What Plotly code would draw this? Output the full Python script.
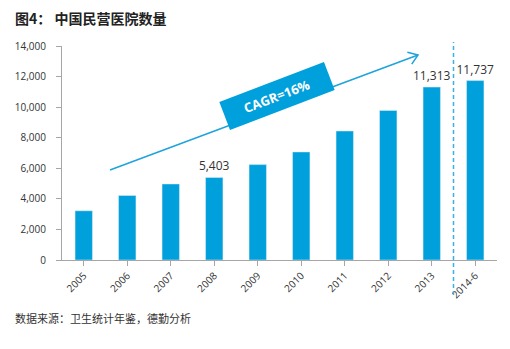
import math
import plotly.graph_objects as go

categories = ["2005", "2006", "2007", "2008", "2009", "2010", "2011", "2012", "2013", "2014-6"]
hospitals = [3220, 4222, 4974, 5403, 6240, 7068, 8440, 9786, 11313, 11737]
labeled = ["2008", "2013", "2014-6"]
bar_text = [f"{v:,}" if c in labeled else "" for c, v in zip(categories, hospitals)]
y_ticks = [0, 2000, 4000, 6000, 8000, 10000, 12000, 14000]
cagr_text = "CAGR=16%"

W, H = 510, 349
L, R, T, B = 62, 13, 46, 89
YMAX = 14000
PW, PH = W - L - R, H - T - B
n = len(categories)

BLUE = "#00a0dc"
TXT = "#333333"
AX = "#a6a6a6"

def px2x(px):
    return (px - L) / PW * n - 0.5

def py2y(py):
    return (T + PH - py) / PH * YMAX

fig = go.Figure()
fig.add_trace(go.Bar(
    x=list(range(n)), y=hospitals, width=0.4, marker_color=BLUE,
    text=bar_text, textposition="outside", cliponaxis=False, constraintext="none",
    textfont=dict(family="Open Sans", size=12, color=TXT),
    hoverinfo="skip",
))

shapes = []
# arrow line (pixel geometry)
sx, sy, ex, ey = 110, 170, 418, 55
shapes.append(dict(type="line", xref="x", yref="y",
                   x0=px2x(sx), y0=py2y(sy), x1=px2x(ex), y1=py2y(ey),
                   line=dict(color="#1fa3dc", width=1.5)))
dx, dy = sx - ex, sy - ey
d = math.hypot(dx, dy)
ux, uy = dx / d, dy / d
pts = []
for a in (math.radians(35), math.radians(-35)):
    rx = ux * math.cos(a) - uy * math.sin(a)
    ry = ux * math.sin(a) + uy * math.cos(a)
    pts.append((ex + 11 * rx, ey + 11 * ry))
path = (f"M {px2x(pts[0][0])},{py2y(pts[0][1])} L {px2x(ex)},{py2y(ey)} "
        f"L {px2x(pts[1][0])},{py2y(pts[1][1])}")
shapes.append(dict(type="path", xref="x", yref="y", path=path,
                   line=dict(color="#1fa3dc", width=1.5)))

# rotated box
cx, cy, bl, bh, ang = 277, 96, 112, 30, math.radians(20.9)
ax_, ay_ = math.cos(ang), -math.sin(ang)
nx_, ny_ = math.sin(ang), math.cos(ang)
corners = []
for s1, s2 in ((-1, -1), (1, -1), (1, 1), (-1, 1)):
    corners.append((cx + s1 * bl / 2 * ax_ + s2 * bh / 2 * nx_,
                    cy + s1 * bl / 2 * ay_ + s2 * bh / 2 * ny_))
bpath = "M " + " L ".join(f"{px2x(p[0])},{py2y(p[1])}" for p in corners) + " Z"
shapes.append(dict(type="path", xref="x", yref="y", path=bpath,
                   fillcolor=BLUE, line=dict(width=0)))

# dashed divider
shapes.append(dict(type="line", xref="x", yref="paper", x0=n - 1.5, x1=n - 1.5,
                   y0=(T + PH - 295) / PH, y1=(T + PH - 42) / PH,
                   line=dict(color="#3db0e3", width=1.5, dash="4px,3px")))

annotations = [
    dict(x=px2x(cx), y=py2y(cy), xref="x", yref="y", text=cagr_text, showarrow=False,
         textangle=-20.9, font=dict(family="Open Sans", size=13, color="white", weight="bold")),
    dict(x=13, y=H - 18, xref="paper", yref="paper", text="图4： 中国民营医院数量", showarrow=False,
         xanchor="left", yanchor="middle",
         font=dict(family="Noto Sans CJK SC", size=14, color="#222222", weight="bold")),
    dict(x=13, y=H - 318, xref="paper", yref="paper", text="数据来源：卫生统计年鉴，德勤分析", showarrow=False,
         xanchor="left", yanchor="middle",
         font=dict(family="Noto Sans CJK SC", size=11, color="#333333")),
]
for a in annotations[1:]:
    a["x"] = (a["x"] - L) / PW
    a["y"] = (a["y"] - B) / PH

fig.update_layout(
    width=W, height=H, margin=dict(l=L, r=R, t=T, b=B),
    paper_bgcolor="white", plot_bgcolor="white", showlegend=False,
    shapes=shapes, annotations=annotations,
    xaxis=dict(range=[-0.5, n - 0.5], tickmode="array", tickvals=list(range(n)),
               ticktext=categories, tickangle=-45, showgrid=False, zeroline=False,
               showline=True, linecolor=AX, linewidth=1, ticks="outside", tickson="boundaries",
               ticklen=5, tickcolor=AX, fixedrange=True,
               tickfont=dict(family="Open Sans", size=10, color=TXT)),
    yaxis=dict(range=[0, YMAX], tickmode="array", tickvals=y_ticks,
               ticktext=[f"{v:,}" for v in y_ticks], showgrid=False, zeroline=False,
               showline=True, linecolor=AX, linewidth=1, ticks="outside", ticklen=5,
               tickcolor=AX, ticklabelstandoff=8, fixedrange=True,
               tickfont=dict(family="Open Sans", size=10, color=TXT)),
)

fig.write_html("out.html", config={"displayModeBar": False})
